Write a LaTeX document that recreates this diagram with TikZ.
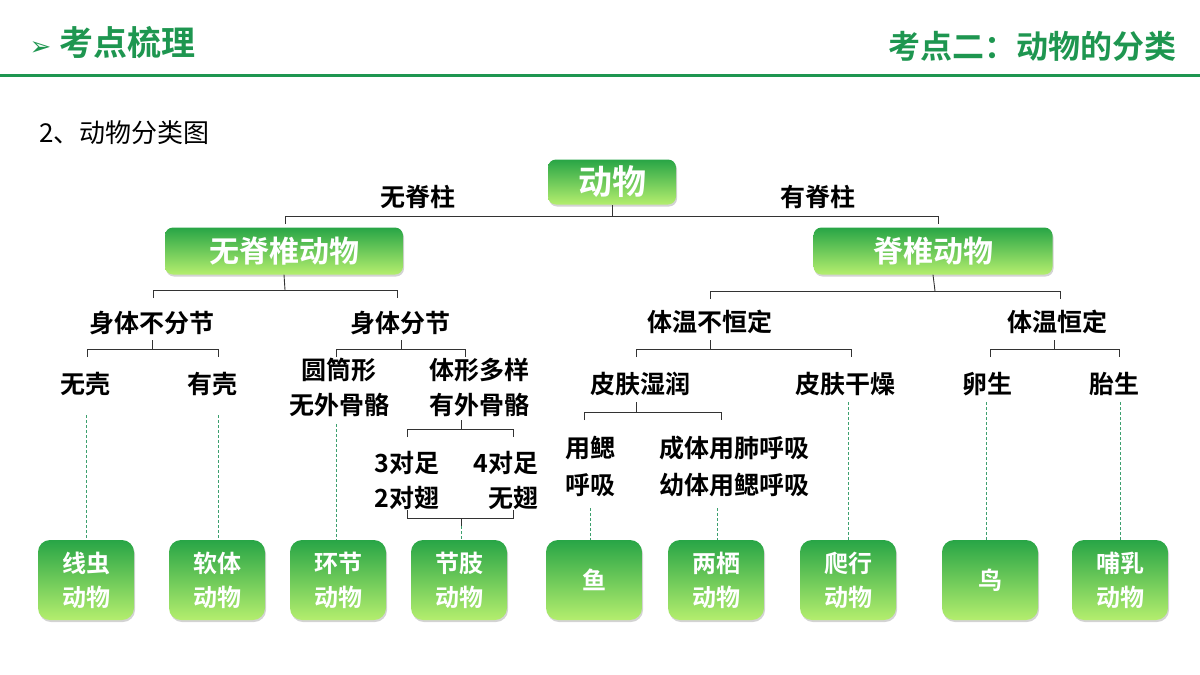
\documentclass[tikz,border=0pt]{standalone}
\usepackage{fontspec}
\setmainfont{Noto Sans CJK SC}[BoldFont={* Bold}]
\newfontfamily\sym{DejaVu Sans}
\usetikzlibrary{shadows}
\definecolor{hdr}{RGB}{30,150,80}
\definecolor{gtop}{RGB}{40,165,70}
\definecolor{gbot}{RGB}{180,238,110}
\definecolor{dash}{RGB}{60,160,110}
\begin{document}
\begin{tikzpicture}[x=1pt,y=-1pt,
  lbl/.style={font=\fontsize{25}{28}\selectfont\bfseries,text=black,inner sep=0pt},
  gbox/.style={rounded corners=8pt,top color=gtop,bottom color=gbot,draw=none,
    text=white,font=\fontsize{30}{34}\selectfont\bfseries,align=center,
    drop shadow={shadow xshift=1pt,shadow yshift=-2pt,opacity=0.35}},
  leaf/.style={gbox,minimum width=96pt,minimum height=80pt,rounded corners=12pt,
    font=\fontsize{24}{34}\selectfont\bfseries},
  br/.style={draw=black!80,line width=0.9pt},
  dl/.style={draw=dash,densely dashed,line width=0.6pt}]
\useasboundingbox (0,0) rectangle (1200,675);
% header
\node[anchor=west,text=hdr,font=\fontsize{34}{38}\selectfont\bfseries] (h1) at (26,42) {{\sym\fontsize{26}{30}\selectfont ➢} 考点梳理};
\node[anchor=east,text=hdr,font=\fontsize{32}{36}\selectfont\bfseries] (h2) at (1180,46) {考点二：动物的分类};
\draw[hdr,line width=3pt] (0,75) -- (1200,75);
\node[anchor=west,font=\fontsize{26}{30}\selectfont] (t) at (36,133) {2、动物分类图};
% main boxes
\node[gbox,minimum width=128pt,minimum height=45pt,font=\fontsize{34}{38}\selectfont\bfseries] (dw) at (612,182) {动物};
\node[gbox,minimum width=238pt,minimum height=47pt] (wj) at (284,251) {无脊椎动物};
\node[gbox,minimum width=239pt,minimum height=47pt] (jz) at (933,251) {脊椎动物};
% top bracket
\coordinate (tb) at (612,216);
\draw[br] (285,224) -- (285,216) -- (938,216) -- (938,224);
\draw[br] (tb) -- (dw.south);
\node[lbl] (l1) at (418,197) {无脊柱};
\node[lbl] (l2) at (818,197) {有脊柱};
% invertebrate
\draw[br] (153,298) -- (153,290) -- (397,290) -- (397,298);
\draw[br] (285,290) -- (wj.south);
\node[lbl] (b1) at (152,323) {身体不分节};
\node[lbl] (b2) at (400,323) {身体分节};
\draw[br] (87,357) -- (87,349) -- (218,349) -- (218,357);
\draw[br] (152,349) -- (152,340);
\draw[br] (336,357) -- (336,349) -- (465,349) -- (465,357);
\draw[br] (401,349) -- (401,340);
\node[lbl] (wk) at (85,384) {无壳};
\node[lbl] (yk) at (212,384) {有壳};
\node[lbl,align=center,font=\fontsize{25}{35}\selectfont\bfseries] (yt) at (339,387) {圆筒形\\无外骨骼};
\node[lbl,align=center,font=\fontsize{25}{35}\selectfont\bfseries] (tx) at (479,387) {体形多样\\有外骨骼};
\draw[br] (407,437) -- (407,429) -- (513,429) -- (513,437);
\draw[br] (461,429) -- (461,420);
\node[lbl,align=left,font=\fontsize{25}{35}\selectfont\bfseries] (s3) at (407,480) {3对足\\2对翅};
\node[lbl,align=right,font=\fontsize{25}{35}\selectfont\bfseries] (s4) at (506,480) {4对足\\无翅};
\draw[br] (407,510) -- (407,518) -- (513,518) -- (513,510);
\coordinate (jb) at (461,526);
\draw[br] (461,518) -- (jb);
% vertebrate
\draw[br] (710,299) -- (710,291) -- (1060,291) -- (1060,299);
\draw[br] (935,291) -- (jz.south);
\node[lbl] (tw1) at (710,322) {体温不恒定};
\node[lbl] (tw2) at (1057,322) {体温恒定};
\draw[br] (636,357) -- (636,349) -- (851,349) -- (851,357);
\draw[br] (710,349) -- (710,340);
\draw[br] (990,357) -- (990,349) -- (1119,349) -- (1119,357);
\draw[br] (1054,349) -- (1054,340);
\node[lbl] (sr) at (640,384) {皮肤湿润};
\node[lbl] (gz) at (845,384) {皮肤干燥};
\node[lbl] (ls) at (987,384) {卵生};
\node[lbl] (ts) at (1114,384) {胎生};
\draw[br] (584,420) -- (584,412) -- (721,412) -- (721,420);
\draw[br] (636,412) -- (636,402);
\node[lbl,align=center,font=\fontsize{25}{37}\selectfont\bfseries] (ys) at (590,466) {用鳃\\呼吸};
\node[lbl,align=center,font=\fontsize{25}{37}\selectfont\bfseries] (cf) at (734,466) {成体用肺呼吸\\幼体用鳃呼吸};
% leaves
\node[leaf] (a1) at (86,580) {线虫\\动物};
\node[leaf] (a2) at (217,580) {软体\\动物};
\node[leaf] (a3) at (338,580) {环节\\动物};
\node[leaf] (a4) at (459,580) {节肢\\动物};
\node[leaf] (a5) at (594,580) {鱼};
\node[leaf] (a6) at (716,580) {两栖\\动物};
\node[leaf] (a7) at (848,580) {爬行\\动物};
\node[leaf] (a8) at (990,580) {鸟};
\node[leaf] (a9) at (1120,580) {哺乳\\动物};
% dashed links
\draw[dl] (86,415) -- (a1.north -| 86,0);
\draw[dl] (218,415) -- (a2.north -| 218,0);
\draw[dl] (336,424) -- (a3.north -| 336,0);
\draw[dl] (jb) -- (a4.north -| 461,0);
\draw[dl] (590,508) -- (a5.north -| 590,0);
\draw[dl] (717,508) -- (a6.north -| 717,0);
\draw[dl] (848,402) -- (a7.north -| 848,0);
\draw[dl] (986,402) -- (a8.north -| 986,0);
\draw[dl] (1120,402) -- (a9.north -| 1120,0);
\end{tikzpicture}
\end{document}
